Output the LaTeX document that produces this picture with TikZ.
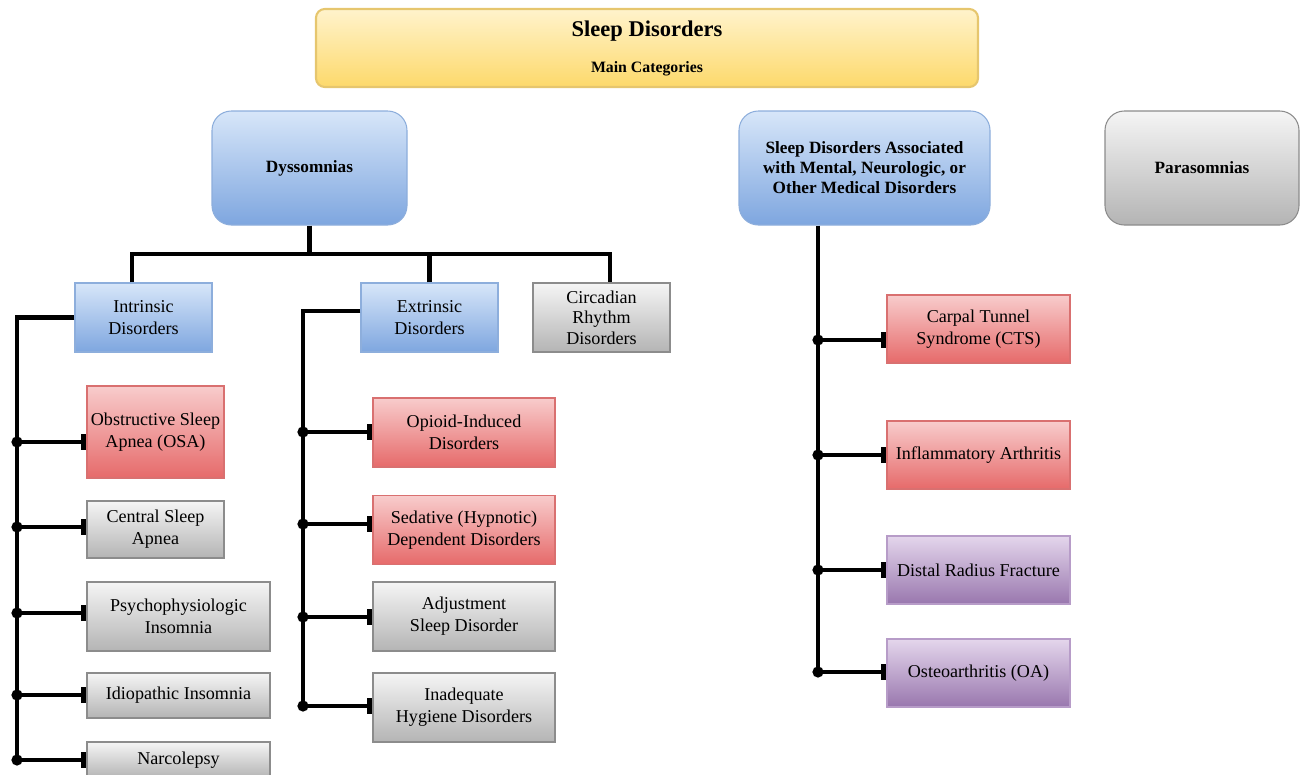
\documentclass[tikz,border=0pt]{standalone}
\usepackage{fontspec}
\setmainfont{Liberation Serif}
\usepackage{xcolor}
\usetikzlibrary{positioning,arrows.meta,calc}

\definecolor{ytop}{HTML}{FFF3CC}\definecolor{ybot}{HTML}{FDD96B}\definecolor{yline}{HTML}{E6C66E}
\definecolor{btop}{HTML}{D7E6F9}\definecolor{bbot}{HTML}{7EA6DF}\definecolor{bline}{HTML}{8DAEDC}
\definecolor{rtop}{HTML}{F8CCCC}\definecolor{rbot}{HTML}{E66A6A}\definecolor{rline}{HTML}{D97070}
\definecolor{gtop}{HTML}{F5F5F5}\definecolor{gbot}{HTML}{B4B4B4}\definecolor{gline}{HTML}{8C8C8C}
\definecolor{ptop}{HTML}{E4D6EC}\definecolor{pbot}{HTML}{9977AE}\definecolor{pline}{HTML}{B79CC8}

\tikzset{
  sz/.style 2 args={minimum width=#1*0.02cm, minimum height=#2*0.02cm},
  box/.style={draw, line width=0.6pt, align=center, inner sep=1pt},
  yellowbox/.style={box, top color=ytop, bottom color=ybot, draw=yline, line width=1.2pt, rounded corners=5pt},
  bluebox/.style={box, top color=btop, bottom color=bbot, draw=bline},
  redbox/.style={box, top color=rtop, bottom color=rbot, draw=rline},
  graybox/.style={box, top color=gtop, bottom color=gbot, draw=gline},
  purplebox/.style={box, top color=ptop, bottom color=pbot, draw=pline},
  headbox/.style={rounded corners=11pt, font=\fontsize{9.8}{11.4}\selectfont\bfseries},
  link/.style={line width=2.3pt},
  branch/.style={link, -{Rectangle[length=3.2pt,width=9pt]}}
}

\begin{document}
\begin{tikzpicture}[x=0.02cm,y=-0.02cm,every node/.style={font=\fontsize{10.3}{12.5}\selectfont}]
  \useasboundingbox (0,0) rectangle (1303,775);

  \node[yellowbox,sz={662}{78}] (title) at (647,48)
    {{\fontsize{12.8}{14}\selectfont\bfseries Sleep Disorders}\\[8pt]{\fontsize{9}{10}\selectfont\bfseries Main Categories}};

  \node[bluebox,headbox,sz={195}{114}] (dys) at (309.5,168) {Dyssomnias};
  \node[bluebox,headbox,sz={251}{114}] (assoc) at (864.5,168) {Sleep Disorders Associated\\with Mental, Neurologic, or\\Other Medical Disorders};
  \node[graybox,headbox,sz={194}{114}] (para) at (1202,168) {Parasomnias};

  \node[bluebox,sz={137}{69}] (intr) at (143.5,317.5) {Intrinsic\\Disorders};
  \node[bluebox,sz={137}{69}] (ext) at (429.5,317.5) {Extrinsic\\Disorders};
  \node[graybox,sz={137}{69},font=\fontsize{10.3}{11.6}\selectfont] (circ) at (601.5,317.5) {Circadian\\Rhythm\\Disorders};

  \node[redbox,sz={137}{92}] (osa) at (155.5,432) {Obstructive Sleep\\Apnea (OSA)};
  \node[graybox,sz={137}{57}] (csa) at (155.5,529.5) {Central Sleep\\Apnea};
  \node[graybox,sz={183}{69}] (psy) at (178.5,616.5) {Psychophysiologic\\Insomnia};
  \node[graybox,sz={183}{45}] (idi) at (178.5,695.5) {Idiopathic Insomnia};
  \node[graybox,sz={183}{36}] (nar) at (178.5,760) {Narcolepsy};

  \node[redbox,sz={182}{69}] (opi) at (464,432.5) {Opioid-Induced\\Disorders};
  \node[redbox,sz={182}{69}] (sed) at (464,530) {Sedative (Hypnotic)\\Dependent Disorders};
  \node[graybox,sz={182}{69}] (adj) at (464,616.5) {Adjustment\\Sleep Disorder};
  \node[graybox,sz={182}{69}] (ina) at (464,707.5) {Inadequate\\Hygiene Disorders};

  \node[redbox,sz={183}{68}] (cts) at (978.5,329) {Carpal Tunnel\\Syndrome (CTS)};
  \node[redbox,sz={183}{68}] (inf) at (978.5,455) {Inflammatory Arthritis};
  \node[purplebox,sz={183}{68}] (dis) at (978.5,570) {Distal Radius Fracture};
  \node[purplebox,sz={183}{68}] (oa) at (978.5,673) {Osteoarthritis (OA)};

  \path (dys.south) ++(0,28) coordinate (hub);
  \draw[link] (dys.south) -- (hub);
  \draw[link] ([xshift=-0.23cm]intr.north) |- (hub) -| ([xshift=0.17cm]circ.north);
  \draw[link] (ext.north) -- (ext.north |- hub);

  \foreach \n/\y in {osa/442,csa/527,psy/613,idi/695,nar/760} {
    \coordinate (j\n) at (17,\y);
    \fill (j\n) circle (3.2pt);
    \draw[branch] (j\n) -- (j\n -| \n.west);
  }
  \draw[link] (intr.west) -| (jnar);

  \foreach \n/\y in {opi/432,sed/524,adj/617,ina/706} {
    \coordinate (j\n) at (303,\y);
    \fill (j\n) circle (3.2pt);
    \draw[branch] (j\n) -- (j\n -| \n.west);
  }
  \draw[link] ([yshift=0.13cm]ext.west) -| (jina);

  \foreach \n/\y in {cts/340,inf/455,dis/570,oa/672} {
    \coordinate (j\n) at (818,\y);
    \fill (j\n) circle (3.2pt);
    \draw[branch] (j\n) -- (j\n -| \n.west);
  }
  \draw[link] (jcts |- assoc.south) -- (joa);
\end{tikzpicture}
\end{document}
